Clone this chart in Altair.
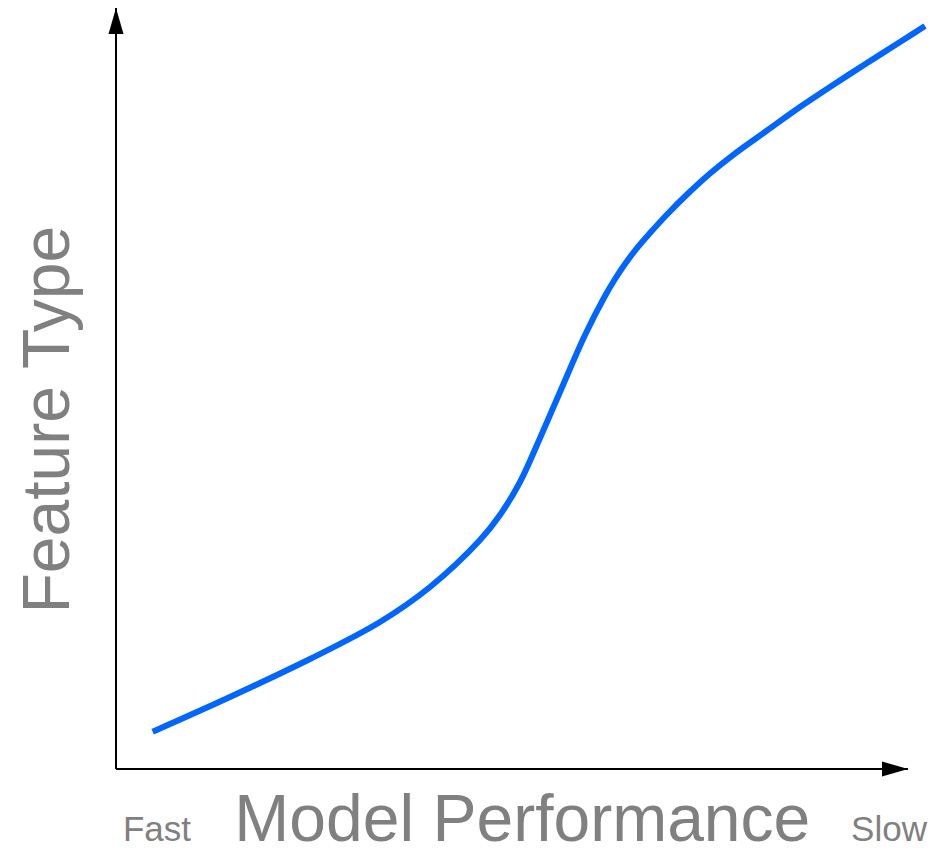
import altair as alt
import pandas as pd

# Curve (data units: 0-100 on each axis)
perf = [4.63, 14.39, 24.49, 33.33, 39.65, 45.96, 48.48, 51.01, 53.54, 56.06,
        59.22, 61.74, 63.01, 64.27, 65.78, 67.42, 69.57, 72.22, 75.00, 77.90,
        82.20, 86.36, 90.53, 94.82, 98.99, 102.15]
feat = [4.90, 9.46, 14.45, 19.32, 23.92, 30.09, 33.38, 37.71, 43.50, 49.54,
        57.03, 62.16, 64.39, 66.36, 68.46, 70.43, 72.87, 75.62, 78.26, 80.68,
        83.90, 86.99, 89.88, 92.77, 95.53, 97.63]

# Axis lines
axis_x = [0, 0]
axis_y = [0, 0]
axis_x2 = [100, 0]
axis_y2 = [0, 100]

# Arrow heads (tip positions)
arrow_x = [100, 0]
arrow_y = [0, 100]
arrow_shape = ["M0,0L-2,-0.577L-2,0.577Z", "M0,0L0.577,2L-0.577,2Z"]

# Bottom labels
bottom_text = ["Fast", "Model Performance", "Slow"]
bottom_x = [5.18, 51.3, 97.6]
bottom_y = [-9.5, -9.5, -9.5]
bottom_size = [35, 66, 35]

# Vertical title
side_text = ["Feature Type"]
side_x = [-5.9]
side_y = [45.9]

xs = alt.Scale(domain=[0, 100], nice=False, zero=False)
ys = alt.Scale(domain=[0, 100], nice=False, zero=False)

curve_df = pd.DataFrame({"perf": perf, "feat": feat})
axes_df = pd.DataFrame({"x": axis_x, "y": axis_y, "x2": axis_x2, "y2": axis_y2})
arrows_df = pd.DataFrame({"x": arrow_x, "y": arrow_y, "shape": arrow_shape})
bottom_df = pd.DataFrame({"t": bottom_text, "x": bottom_x, "y": bottom_y, "s": bottom_size})
side_df = pd.DataFrame({"t": side_text, "x": side_x, "y": side_y})

curve = alt.Chart(curve_df).mark_line(
    interpolate="catmull-rom", color="#0066FF", strokeWidth=6, strokeCap="butt"
).encode(
    x=alt.X("perf:Q", scale=xs, axis=None),
    y=alt.Y("feat:Q", scale=ys, axis=None),
    order=alt.Order("perf:Q"),
)

axes = alt.Chart(axes_df).mark_rule(color="black", strokeWidth=2).encode(
    x=alt.X("x:Q", scale=xs, axis=None),
    y=alt.Y("y:Q", scale=ys, axis=None),
    x2="x2:Q",
    y2="y2:Q",
)

arrows = alt.Chart(arrows_df).mark_point(
    filled=True, color="black", opacity=1, size=676, strokeWidth=0
).encode(
    x=alt.X("x:Q", scale=xs, axis=None),
    y=alt.Y("y:Q", scale=ys, axis=None),
    shape=alt.Shape("shape:N", scale=None, legend=None),
)

bottom = alt.Chart(bottom_df).mark_text(
    font="Liberation Sans", color="#808080", align="center", baseline="alphabetic"
).encode(
    x=alt.X("x:Q", scale=xs, axis=None),
    y=alt.Y("y:Q", scale=ys, axis=None),
    text="t:N",
    size=alt.Size("s:Q", scale=None, legend=None),
)

side = alt.Chart(side_df).mark_text(
    font="Liberation Sans", color="#808080", align="center", baseline="alphabetic",
    angle=270, fontSize=66
).encode(
    x=alt.X("x:Q", scale=xs, axis=None),
    y=alt.Y("y:Q", scale=ys, axis=None),
    text="t:N",
)

chart = alt.layer(axes, curve, arrows, bottom, side).properties(
    width=792,
    height=761,
    background="white",
    autosize=alt.AutoSizeParams(type="none"),
    padding={"left": 108, "top": 0, "right": 26, "bottom": 75},
).configure_view(strokeWidth=0, stroke=None)

chart.save("out.html", embed_options={"renderer": "svg", "actions": False})
